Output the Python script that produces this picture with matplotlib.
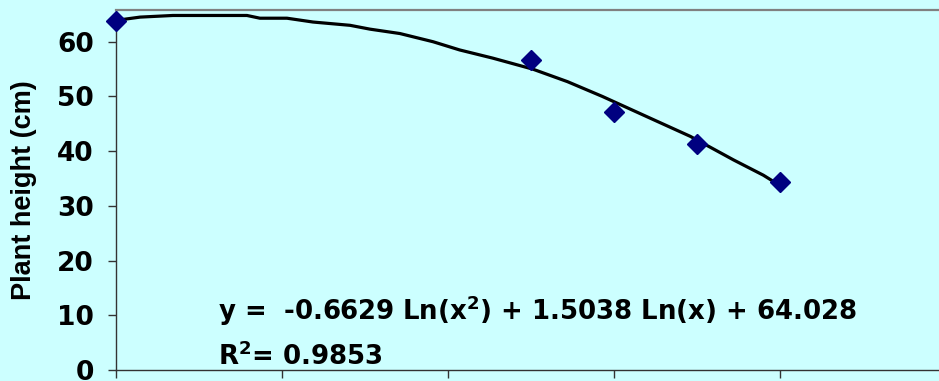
"""
Plant height vs. treatment level, with the fitted log-quadratic trendline.
Writes out.png (939x381).
"""
import matplotlib
matplotlib.use("Agg")
import matplotlib.pyplot as plt
import numpy as np

BG = "#CCFFFF"
MARKER_C = "#000080"

# observed points (x in axis-tick units, axis carries no tick labels)
obs_x = [0.0, 2.5, 3.0, 3.5, 4.0]
obs_y = [63.7, 56.7, 47.2, 41.3, 34.4]

# trendline
trend_x = [0.0, 0.145, 0.343, 0.789, 0.867, 1.03, 1.187, 1.41, 1.53, 1.71,
           1.91, 2.07, 2.27, 2.51, 2.72, 2.93, 3.22, 3.46, 3.72, 3.90, 3.99]
trend_y = [63.9, 64.5, 64.8, 64.8, 64.3, 64.3, 63.6, 63.0, 62.3, 61.5,
           60.0, 58.5, 57.0, 55.0, 52.7, 50.0, 46.0, 42.7, 38.4, 35.6, 33.9]

y_ticks = [0, 10, 20, 30, 40, 50, 60]
x_ticks = [0, 1, 2, 3, 4, 5]

eq_text = r"y =  -0.6629 Ln(x$^\mathbf{2}$) + 1.5038 Ln(x) + 64.028"
r2_text = r"R$^\mathbf{2}$= 0.9853"

fig = plt.figure(figsize=(9.39, 3.81), dpi=100, facecolor=BG)
ax = fig.add_axes([116 / 939, 11 / 381, 830 / 939, 360 / 381], facecolor=BG)

ax.plot(trend_x, trend_y, color="black", lw=2.3, zorder=2)
ax.plot(obs_x, obs_y, ls="none", marker="D", ms=10, color=MARKER_C,
        mec=MARKER_C, zorder=3, clip_on=False)

ax.set_xlim(0, 5)
ax.set_ylim(0, 65.8)
ax.set_yticks(y_ticks)
ax.set_xticks(x_ticks)
ax.set_xticklabels([])
ax.tick_params(axis="both", direction="out", length=6, width=1, color="#333333")
ax.tick_params(axis="y", pad=10, labelsize=19)
for lab in ax.get_yticklabels():
    lab.set_fontweight("bold")
    lab.set_family("DejaVu Sans")

for s in ("left", "bottom"):
    ax.spines[s].set_color("#333333")
    ax.spines[s].set_linewidth(1)
ax.spines["top"].set_color("#808080")
ax.spines["top"].set_linewidth(1.6)
ax.spines["right"].set_visible(False)

ax.set_ylabel("Plant height (cm)", family="Liberation Sans", fontweight="bold",
              fontsize=19.5, labelpad=14)

ax.text(0.614, 9.1, eq_text, fontsize=18.7, fontweight="bold", va="baseline",
        family="DejaVu Sans")
ax.text(0.614, 0.9, r2_text, fontsize=18.7, fontweight="bold", va="baseline",
        family="DejaVu Sans")

fig.savefig("out.png", dpi=100, facecolor=BG)
